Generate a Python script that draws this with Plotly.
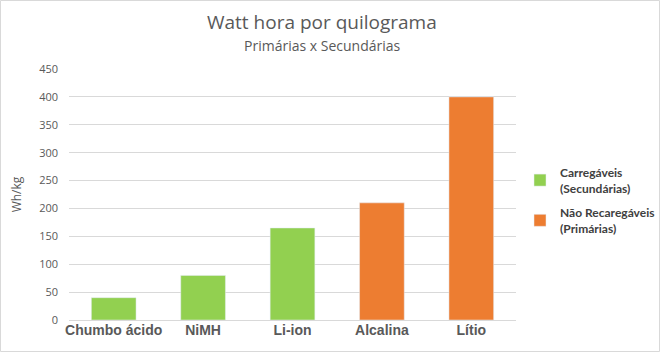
import plotly.graph_objects as go

categories = ["Chumbo ácido", "NiMH", "Li-ion", "Alcalina", "Lítio"]
recarregaveis = [40, 80, 165, None, None]
nao_recarregaveis = [None, None, None, 210, 400]
y_ticks = [0, 50, 100, 150, 200, 250, 300, 350, 400, 450]

W, H = 660, 352
L, R, T, B = 69, 144, 69, 32
pw, ph = W - L - R, H - T - B

fig = go.Figure()
fig.add_trace(go.Bar(x=categories, y=recarregaveis, name="<b>Carregáveis<br>(Secundárias)</b>",
                     marker_color="#92D050", width=0.5, legendgroup="a"))
fig.add_trace(go.Bar(x=categories, y=nao_recarregaveis, name="<b>Não Recaregáveis<br>(Primárias)</b>",
                     marker_color="#ED7D31", width=0.5, legendgroup="b"))

fig.update_layout(
    width=W, height=H,
    margin=dict(l=L, r=R, t=T, b=B, autoexpand=False),
    barmode="overlay",
    plot_bgcolor="white", paper_bgcolor="white",
    font=dict(family="Open Sans, Liberation Sans, sans-serif", color="#595959"),
    showlegend=True,
    legend=dict(x=(520 - L) / pw, y=(320 - 158) / ph, xanchor="left", yanchor="top",
                font=dict(size=12, color="#404040", family="Lato, sans-serif"),
                tracegroupgap=6, itemwidth=30, bgcolor="rgba(0,0,0,0)"),
    xaxis=dict(tickfont=dict(family="Liberation Sans, Arial, sans-serif", size=14, color="#595959",
                             weight="bold"),
               showline=False, ticks="", range=[-0.5, 4.5]),
    yaxis=dict(range=[0, 450], tickvals=y_ticks, showgrid=True, gridcolor="#D9D9D9",
               zeroline=True, zerolinecolor="#D9D9D9", zerolinewidth=1,
               tickfont=dict(size=11, color="#595959"), ticks="", ticklabelstandoff=10,
               title=dict(text="Wh/kg", font=dict(size=12, color="#595959"), standoff=14)),
    annotations=[
        dict(text="Watt hora por quilograma", x=(W / 2 - 8 - L) / pw, y=(H - 22 - B) / ph,
             xref="paper", yref="paper", showarrow=False, yanchor="middle",
             font=dict(size=19, color="#595959")),
        dict(text="Primárias x Secundárias", x=(W / 2 - 8 - L) / pw, y=(H - 45 - B) / ph,
             xref="paper", yref="paper", showarrow=False, yanchor="middle",
             font=dict(size=14, color="#595959")),
    ],
    shapes=[dict(type="rect", xref="paper", yref="paper",
                 x0=(0.5 - L) / pw, x1=(W - 0.5 - L) / pw,
                 y0=(-B + 0.5) / ph, y1=(H - B - 0.5) / ph,
                 line=dict(color="#D9D9D9", width=1), layer="below")],
)

fig.write_html("out.html")
